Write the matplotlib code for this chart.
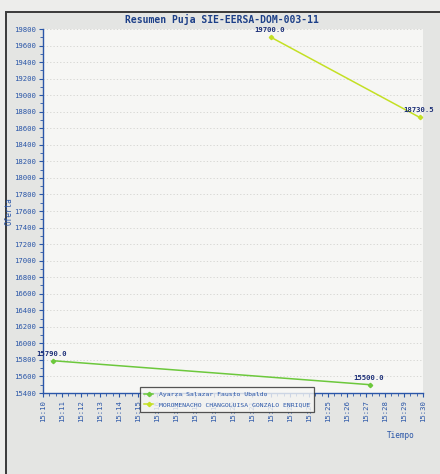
#!/usr/bin/env python3
"""Resumen de puja: ofertas por oferente en el tiempo."""

from datetime import datetime

import matplotlib

matplotlib.use("Agg")
import matplotlib.dates as mdates
import matplotlib.pyplot as plt
from matplotlib.patches import Rectangle
from matplotlib.ticker import MultipleLocator

# data
ayarza_times = ["15:10:32", "15:27:14"]
ayarza_values = [15790.0, 15500.0]
moro_times = ["15:22:00", "15:29:50"]
moro_values = [19700.0, 18730.5]
series_names = [
    "Ayarza Salazar Fausto Ubaldo",
    "MOROMENACHO CHANGOLUISA GONZALO ENRIQUE",
]

x_start = "15:10:00"
x_end = "15:30:00"
y_min, y_max, y_step = 15400, 19800, 200


def to_dt(s):
    return datetime.strptime("2011-01-01 " + s, "%Y-%m-%d %H:%M:%S")


TXT = "#2a56a8"
plt.rcParams.update(
    {
        "font.family": ["DejaVu Sans Mono"],
        "font.size": 5.2,
    }
)

fig = plt.figure(figsize=(4.4, 4.74), dpi=100)
fig.patch.set_facecolor("#ededeb")

# chart panel frame
W, H = 440, 474
fig.patches.append(
    Rectangle((6 / W, -0.05), 1.1, 1 - 12 / H + 0.05, transform=fig.transFigure,
              facecolor="#e4e5e3", edgecolor="#3a3a3a", linewidth=1.4, zorder=-10)
)

ax = fig.add_axes([43 / W, 1 - 393 / H, 380 / W, 364 / H])
ax.set_facecolor("#f6f6f4")

colors = ["#6cc83c", "#c4e024"]
for times, vals, name, c in [
    (ayarza_times, ayarza_values, series_names[0], colors[0]),
    (moro_times, moro_values, series_names[1], colors[1]),
]:
    xs = [to_dt(t) for t in times]
    ax.plot(xs, vals, color=c, linewidth=1.1, marker="D", markersize=2.2,
            label=name, zorder=3)
    for x, v in zip(xs, vals):
        ax.annotate(f"{v:.1f}", (x, v), xytext=(-1, 3), textcoords="offset points",
                    ha="center", va="bottom", color="#1c2f78", fontsize=5.2,
                    fontweight="bold", zorder=4, annotation_clip=False)

ax.set_xlim(to_dt(x_start), to_dt(x_end))
ax.set_ylim(y_min, y_max)
ax.yaxis.set_major_locator(MultipleLocator(y_step))
ax.yaxis.set_minor_locator(MultipleLocator(y_step / 2))
ax.xaxis.set_major_locator(mdates.MinuteLocator(interval=1))
ax.xaxis.set_minor_locator(mdates.SecondLocator(bysecond=[20, 40]))
ax.xaxis.set_major_formatter(mdates.DateFormatter("%H:%M"))
plt.setp(ax.get_xticklabels(), rotation=90)

ax.grid(axis="y", color="#d2d2ce", linestyle=(0, (1.5, 2.5)), linewidth=0.6)
for side in ["top", "right"]:
    ax.spines[side].set_visible(False)
for side in ["left", "bottom"]:
    ax.spines[side].set_color("#2a56a8")
    ax.spines[side].set_linewidth(1.0)
ax.tick_params(which="major", colors=TXT, labelcolor=TXT, length=3, width=0.8,
               labelsize=5.2, pad=2)
ax.tick_params(which="minor", colors=TXT, length=2, width=0.6)

ax.set_ylabel("Oferta", color=TXT, fontsize=5.5)
ax.yaxis.set_label_coords((14 - 43) / 380, 0.5)
fig.text(401 / W, 1 - 436 / H, "Tiempo", color=TXT, fontsize=5.5,
         ha="center", va="center")
fig.text(222 / W, 1 - 19 / H, "Resumen Puja SIE-EERSA-DOM-003-11", color="#1c3f88",
         fontsize=7, fontweight="bold", ha="center", va="center")

leg = ax.legend(loc="upper left", bbox_to_anchor=((140 - 43) / 380, 6 / 364),
                frameon=True, fancybox=False, fontsize=4.6, handlelength=1.4,
                borderpad=0.7, labelspacing=0.8, handletextpad=0.8,
                borderaxespad=0)
leg.get_frame().set_edgecolor("#2b2b2b")
leg.get_frame().set_linewidth(0.9)
leg.get_frame().set_facecolor("#f6f6f4")
for t in leg.get_texts():
    t.set_color(TXT)
leg.set_zorder(5)

fig.savefig("out.png", dpi=100, facecolor=fig.get_facecolor())
